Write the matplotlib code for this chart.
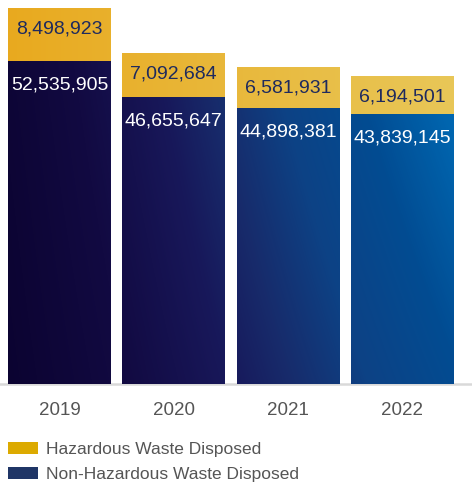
import numpy as np
import matplotlib
matplotlib.use("Agg")
import matplotlib.pyplot as plt
from matplotlib.colors import LinearSegmentedColormap
from matplotlib.patches import Patch

plt.rcParams['font.family'] = ['Liberation Sans', 'DejaVu Sans']

years = ["2019", "2020", "2021", "2022"]
non_hazardous = [52535905, 46655647, 44898381, 43839145]
hazardous = [8498923, 7092684, 6581931, 6194501]

navy_cmap = LinearSegmentedColormap.from_list("navy", [
    (0.0, "#0b0330"), (0.2, "#120a42"), (0.36, "#18185a"),
    (0.46, "#172c6c"), (0.58, "#0d4285"), (0.73, "#024c92"),
    (0.88, "#0066b0"), (1.0, "#0070b8")])
gold_cmap = LinearSegmentedColormap.from_list("gold", ["#e8a91e", "#e9c85a"])

fig = plt.figure(figsize=(4.72, 4.83), dpi=100)
ax = fig.add_axes([0, 99 / 483, 1, 383 / 483])

x = np.arange(len(years))
width = 0.9
xlim = (-0.52, 3.608)
ylim = (0, 62.2e6)

nh_bars = ax.bar(x, non_hazardous, width, color="none", linewidth=0)
hz_bars = ax.bar(x, hazardous, width, bottom=non_hazardous, color="none", linewidth=0)

# gradient fills clipped to the bars
gx, gy = np.meshgrid(np.linspace(0, 1, 472), np.linspace(0, 1, 383))
t_navy = (gx + 0.25 * gy * (0.4 + gx)) / 1.35
for b in nh_bars:
    im = ax.imshow(t_navy, cmap=navy_cmap, vmin=0, vmax=1, origin="lower",
                   extent=(*xlim, *ylim), aspect="auto", zorder=2)
    im.set_clip_path(b)
for b in hz_bars:
    im = ax.imshow(gx, cmap=gold_cmap, vmin=0, vmax=1, origin="lower",
                   extent=(*xlim, *ylim), aspect="auto", zorder=2)
    im.set_clip_path(b)

for i in range(len(years)):
    top = non_hazardous[i] + hazardous[i]
    ax.text(x[i], top - 4.15e6, f"{hazardous[i]:,}", ha="center", va="baseline",
            fontsize=14, color="#1e2a5e", zorder=3)
    ax.text(x[i], non_hazardous[i] - 4.7e6, f"{non_hazardous[i]:,}", ha="center",
            va="baseline", fontsize=14, color="white", zorder=3)

ax.set_xlim(*xlim)
ax.set_ylim(*ylim)
ax.set_xticks(x)
ax.set_xticklabels(years, fontsize=13.5, color="#555555")
ax.tick_params(axis="x", length=0, pad=13)
ax.set_yticks([])
for s in ["top", "right", "left"]:
    ax.spines[s].set_visible(False)
ax.spines["bottom"].set_color("#d9d9d9")
ax.spines["bottom"].set_linewidth(1.8)
ax.spines["bottom"].set_zorder(1)

handles = [Patch(facecolor="#dcaa00", label="Hazardous Waste Disposed"),
           Patch(facecolor="#1f3566", label="Non-Hazardous Waste Disposed")]
fig.legend(handles=handles, loc="upper left", bbox_to_anchor=(8 / 472, 1 - 442 / 483),
           frameon=False, fontsize=12.5, labelcolor="#555555", borderpad=0,
           borderaxespad=0, handlelength=1.71, handleheight=0.69,
           handletextpad=0.5, labelspacing=0.58)

fig.savefig("out.png", dpi=100)
